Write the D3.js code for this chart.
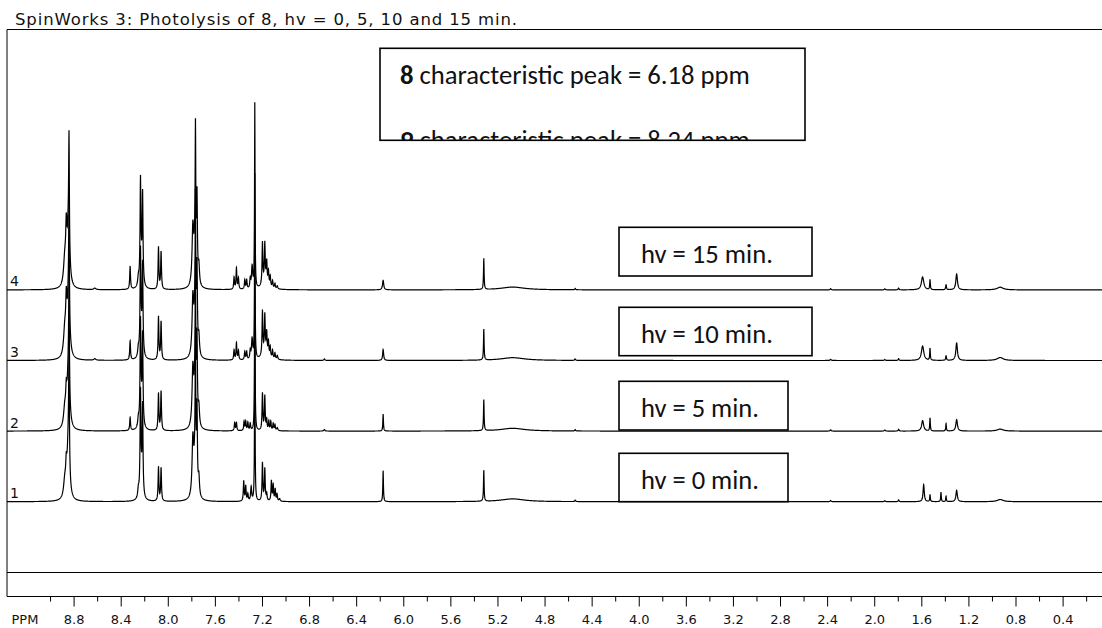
<!DOCTYPE html>
<html>
<head>
<meta charset="utf-8">
<script src="https://cdn.jsdelivr.net/npm/d3@7"></script>
<style>
  body { margin: 0; background: #fff; }
  svg { display: block; }
</style>
</head>
<body>
<div id="chart"></div>
<script>
// stacked 1H NMR spectra, intensity in arbitrary units
var spectrumNames = ["1", "2", "3", "4"];
var hvLabels = ["hv = 0 min.", "hv = 5 min.", "hv = 10 min.", "hv = 15 min."];
var majorTicks = [8.8, 8.4, 8.0, 7.6, 7.2, 6.8, 6.4, 6.0, 5.6, 5.2, 4.8, 4.4, 4.0, 3.6, 3.2, 2.8, 2.4, 2.0, 1.6, 1.2, 0.8, 0.4];
var minorTicks = [9.0, 8.6, 8.2, 7.8, 7.4, 7.0, 6.6, 6.2, 5.8, 5.4, 5.0, 4.6, 4.2, 3.8, 3.4, 3.0, 2.6, 2.2, 1.8, 1.4, 1.0, 0.6, 0.2];

// [ppm, height, half width]
var commonPeaks = [
  [8.845, 55, 0.012], [8.839, 110, 0.0035],
  [8.250, 8, 0.006], [8.232, 95, 0.004], [8.225, 20, 0.012], [8.214, 85, 0.004],
  [7.787, 55, 0.008], [7.768, 40, 0.012], [7.765, 120, 0.003], [7.752, 78, 0.004], [7.736, 18, 0.006],
  [7.261, 185, 0.0025],
  [5.316, 31, 0.003], [5.07, 2.8, 0.12], [4.54, 1.5, 0.004],
  [2.37, 1.2, 0.005], [1.91, 1, 0.005], [1.793, 1.8, 0.004]
];
var peaksHv0 = [
  [8.875, 16, 0.012], [8.862, 22, 0.006],
  [8.079, 34, 0.004], [8.057, 33, 0.004],
  [7.355, 20, 0.004], [7.338, 15, 0.004], [7.320, 7, 0.004], [7.292, 14, 0.005],
  [7.196, 38, 0.004], [7.176, 32, 0.004], [7.160, 7, 0.004], [7.120, 20, 0.004], [7.105, 16, 0.004],
  [7.088, 12, 0.004], [7.072, 7, 0.004], [7.050, 2.5, 0.006],
  [6.171, 31, 0.003],
  [1.580, 17, 0.006], [1.526, 7, 0.003], [1.433, 9.5, 0.003], [1.390, 5.5, 0.003], [1.300, 11.5, 0.007], [0.93, 2.2, 0.03]
];
var peaksHv5 = [
  [8.875, 18, 0.012], [8.862, 24, 0.006], [8.320, 13, 0.004],
  [8.079, 37, 0.004], [8.057, 39, 0.004],
  [7.432, 8, 0.004], [7.417, 8, 0.004], [7.352, 9, 0.004], [7.338, 9, 0.004], [7.320, 8, 0.004], [7.300, 7, 0.004],
  [7.196, 37, 0.004], [7.176, 34, 0.004], [7.160, 10, 0.004], [7.142, 9, 0.004], [7.125, 9, 0.004],
  [7.105, 7, 0.004], [7.090, 6, 0.004], [7.070, 3, 0.006],
  [6.67, 1.5, 0.005], [6.171, 17, 0.003],
  [1.589, 10.5, 0.01], [1.526, 13, 0.003], [1.390, 7.5, 0.003], [1.300, 11.5, 0.008], [0.93, 2, 0.03]
];
var peaksHv10 = [
  [8.875, 25, 0.012], [8.862, 42, 0.006], [8.62, 1.5, 0.01], [8.320, 19, 0.004],
  [8.079, 43, 0.004], [8.057, 38, 0.004],
  [7.437, 10, 0.004], [7.417, 17, 0.004], [7.400, 9, 0.004], [7.346, 8, 0.004], [7.330, 8, 0.004],
  [7.300, 8, 0.004], [7.284, 20, 0.006],
  [7.196, 44, 0.004], [7.176, 37, 0.004], [7.160, 20, 0.004], [7.145, 13, 0.004], [7.130, 10, 0.004],
  [7.110, 8, 0.004], [7.090, 6, 0.004], [7.070, 4, 0.005], [7.17, 8, 0.03],
  [6.67, 1.5, 0.005], [6.171, 11, 0.005],
  [1.589, 14.5, 0.012], [1.526, 12, 0.003], [1.390, 4.5, 0.004], [1.300, 17.5, 0.008], [0.93, 3, 0.03]
];
var peaksHv15 = [
  [8.875, 25, 0.012], [8.862, 45, 0.006], [8.62, 1.5, 0.01], [8.320, 23, 0.004],
  [8.079, 42, 0.004], [8.057, 37, 0.004],
  [7.437, 12, 0.004], [7.417, 21, 0.004], [7.400, 11, 0.004], [7.346, 9, 0.004], [7.330, 9, 0.004],
  [7.300, 9, 0.004], [7.284, 22, 0.006],
  [7.196, 42, 0.004], [7.176, 38, 0.004], [7.160, 20, 0.004], [7.145, 13, 0.004], [7.130, 10, 0.004],
  [7.110, 7, 0.004], [7.090, 5, 0.004], [7.070, 3, 0.005], [7.17, 8, 0.03],
  [6.171, 9.5, 0.006],
  [1.589, 13, 0.012], [1.526, 10, 0.003], [1.390, 5, 0.004], [1.300, 16, 0.008], [0.93, 2.7, 0.03]
];
var spectra = [peaksHv0, peaksHv5, peaksHv10, peaksHv15].map(function (p) {
  return commonPeaks.concat(p);
});

var width = 1102, height = 628;
var frameLeft = 7, frameTop = 29.5, frameMid = 572.5, frameBottom = 596.5;
var stackStep = 70.6;

var svg = d3.select("#chart").append("svg")
  .attr("width", width)
  .attr("height", height);

var x = d3.scaleLinear().domain([8.8, 0.4]).range([73.6, 1062.6]);
var y = d3.scaleLinear().domain([0, 100]).range([501.7, 401.7]);

// title
svg.append("text")
  .attr("x", 15).attr("y", 24.5)
  .attr("font-family", "Verdana, 'DejaVu Sans', sans-serif")
  .attr("font-size", 16.5)
  .attr("textLength", 502)
  .attr("lengthAdjust", "spacing")
  .attr("fill", "#111")
  .text("SpinWorks 3: Photolysis of 8, hv = 0, 5, 10 and 15 min.");

// frame
var frame = svg.append("g").attr("stroke", "#000").attr("stroke-width", 1);
frame.append("line").attr("x1", frameLeft).attr("x2", frameLeft).attr("y1", frameTop).attr("y2", frameBottom);
[frameTop, frameMid, frameBottom].forEach(function (yy) {
  frame.append("line").attr("x1", frameLeft).attr("x2", width).attr("y1", yy).attr("y2", yy);
});

// sample grid
var xmin = x.invert(width), xmax = x.invert(frameLeft);
var grid = d3.range(xmax, xmin, -0.0015);
spectra.forEach(function (p) { p.forEach(function (d) { grid.push(d[0]); }); });
grid.sort(function (a, b) { return b - a; });

function intensity(peaks, ppm) {
  var s = 0;
  for (var i = 0; i < peaks.length; i++) {
    var t = (ppm - peaks[i][0]) / peaks[i][2];
    s += peaks[i][1] / (1 + t * t);
  }
  return s;
}

var line = d3.line()
  .x(function (d) { return x(d[0]); })
  .y(function (d) { return y(d[1]); });

var traces = svg.append("g").attr("fill", "none").attr("stroke", "#000").attr("stroke-width", 1.2);
spectra.forEach(function (peaks, k) {
  var pts = grid.map(function (ppm) { return [ppm, k * stackStep + intensity(peaks, ppm)]; });
  traces.append("path").attr("d", line(pts));
});

// spectrum numbers
svg.append("g").selectAll("text").data(spectrumNames).enter().append("text")
  .attr("x", 10)
  .attr("y", function (d, i) { return y(i * stackStep) - 3.5; })
  .attr("font-family", "Verdana, 'DejaVu Sans', sans-serif")
  .attr("font-size", 14)
  .attr("fill", "#111")
  .text(function (d) { return d; });

// axis
var axisMajor = d3.axisBottom(x).tickValues(majorTicks).tickSize(10).tickPadding(8.5)
  .tickFormat(d3.format(".1f"));
var axisMinor = d3.axisBottom(x).tickValues(minorTicks).tickSize(5).tickFormat("");
var gMinor = svg.append("g").attr("transform", "translate(0," + frameBottom + ")").call(axisMinor);
var gMajor = svg.append("g").attr("transform", "translate(0," + frameBottom + ")").call(axisMajor);
[gMinor, gMajor].forEach(function (g) {
  g.select(".domain").remove();
  g.selectAll("line").attr("stroke", "#000");
});
gMajor.selectAll("text")
  .attr("font-family", "Verdana, 'DejaVu Sans', sans-serif")
  .attr("font-size", 13)
  .attr("fill", "#111");
svg.append("text")
  .attr("x", 11.5).attr("y", 624.3)
  .attr("font-family", "Verdana, 'DejaVu Sans', sans-serif")
  .attr("font-size", 13)
  .attr("fill", "#111")
  .text("PPM");

// fits a text element to a target width by scaling its font size
function fitWidth(sel, target) {
  var w = sel.node().getComputedTextLength();
  var fs = parseFloat(sel.attr("font-size"));
  sel.attr("font-size", fs * target / w);
}

// hv boxes
var boxFont = "Carlito, Calibri, Lato, sans-serif";
var boxes = [
  {label: hvLabels[3], x: 619, y: 227.3, w: 193, h: 48.7, base: 263.3},
  {label: hvLabels[2], x: 619, y: 307.3, w: 193, h: 48.4, base: 343.3},
  {label: hvLabels[1], x: 619, y: 381.3, w: 169, h: 48.7, base: 416.7},
  {label: hvLabels[0], x: 619, y: 453.3, w: 169, h: 48.4, base: 489.3}
];
var bg = svg.append("g").selectAll("g").data(boxes).enter().append("g");
bg.append("rect")
  .attr("x", function (d) { return d.x; })
  .attr("y", function (d) { return d.y; })
  .attr("width", function (d) { return d.w; })
  .attr("height", function (d) { return d.h; })
  .attr("fill", "#fff").attr("stroke", "#000").attr("stroke-width", 1.6);
bg.append("text")
  .attr("x", 641)
  .attr("y", function (d) { return d.base; })
  .attr("font-family", boxFont)
  .attr("font-size", 25)
  .attr("fill", "#111")
  .text(function (d) { return d.label; })
  .each(function (d) {
    var t = d3.select(this);
    fitWidth(t, d.label.length === 12 ? 132 : 118);
  });

// top note box, second line clipped by the box
var note = {x: 380, y: 48.3, w: 425, h: 92};
svg.append("clipPath").attr("id", "noteClip").append("rect")
  .attr("x", note.x).attr("y", note.y).attr("width", note.w).attr("height", note.h);
svg.append("rect")
  .attr("x", note.x).attr("y", note.y).attr("width", note.w).attr("height", note.h)
  .attr("fill", "#fff").attr("stroke", "#000").attr("stroke-width", 1.6);
var noteG = svg.append("g").attr("clip-path", "url(#noteClip)");
var noteLines = [["8", " characteristic peak = 6.18 ppm", 84], ["9", " characteristic peak = 8.24 ppm", 149]];
noteLines.forEach(function (l, i) {
  var t = noteG.append("text")
    .attr("x", 400).attr("y", l[2])
    .attr("font-family", boxFont)
    .attr("font-size", 26)
    .attr("fill", "#111");
  t.append("tspan").attr("font-weight", "bold").text(l[0]);
  t.append("tspan").text(l[1]);
  fitWidth(t, 350);
});
</script>
</body>
</html>
